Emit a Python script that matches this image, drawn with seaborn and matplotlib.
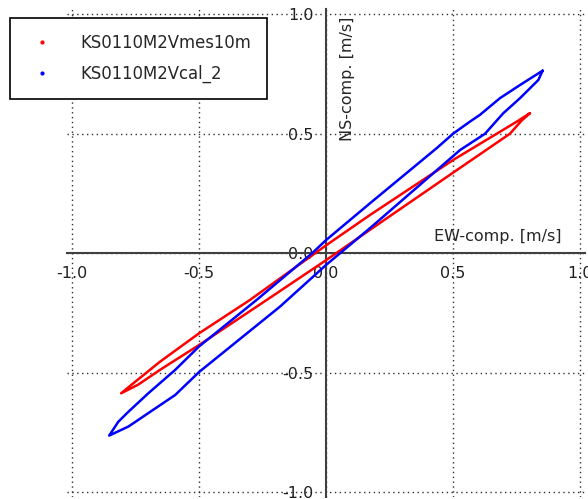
import numpy as np
import pandas as pd
import matplotlib
matplotlib.use("Agg")
import matplotlib.pyplot as plt
import seaborn as sns
from matplotlib.lines import Line2D

# Orbit traces (EW, NS) in m/s, walked once round each loop
mes_ew = [0.803, 0.770, 0.724, 0.500, 0.173, 0.000, -0.233, -0.500, -0.654, -0.740, -0.807,
          -0.760, -0.654, -0.500, -0.299, 0.000, 0.173, 0.500, 0.672, 0.750, 0.803]
mes_ns = [0.586, 0.555, 0.500, 0.337, 0.098, -0.029, -0.195, -0.384, -0.488, -0.550, -0.586,
          -0.545, -0.454, -0.335, -0.195, 0.033, 0.160, 0.390, 0.500, 0.550, 0.586]

cal_ew = [0.853, 0.836, 0.764, 0.698, 0.626, 0.528, 0.173, 0.055, 0.000, -0.181, -0.500,
          -0.594, -0.700, -0.778, -0.854,
          -0.818, -0.778, -0.700, -0.594, -0.500, -0.273, -0.055, 0.000, 0.173, 0.436,
          0.500, 0.567, 0.606, 0.685, 0.764, 0.853]
cal_ns = [0.764, 0.725, 0.649, 0.586, 0.500, 0.432, 0.105, 0.000, -0.049, -0.223, -0.497,
          -0.593, -0.669, -0.725, -0.763,
          -0.705, -0.663, -0.586, -0.488, -0.390, -0.195, 0.000, 0.055, 0.209, 0.440,
          0.500, 0.551, 0.579, 0.649, 0.704, 0.764]

labels = ["KS0110M2Vmes10m", "KS0110M2Vcal_2"]
colors = ["#ff0000", "#0000ff"]
ticks = [-1.0, -0.5, 0.0, 0.5, 1.0]

df = pd.concat([
    pd.DataFrame({"ew": mes_ew, "ns": mes_ns, "series": labels[0]}),
    pd.DataFrame({"ew": cal_ew, "ns": cal_ns, "series": labels[1]}),
], ignore_index=True)

sns.set_style("white")
plt.rcParams["font.family"] = ["DejaVu Sans"]
plt.rcParams["font.size"] = 11.5

fig = plt.figure(figsize=(5.88, 4.99), dpi=100)
ax = fig.add_axes([0.114, 0.004, 0.881, 0.977])

sns.lineplot(data=df, x="ew", y="ns", hue="series", palette=colors,
             estimator=None, sort=False, linewidth=1.8, ax=ax, legend=False, zorder=3)

ax.set_xlim(-1.02, 1.02)
ax.set_ylim(-1.02, 1.02)
ax.set_xticks(ticks)
ax.set_yticks(ticks)
ax.set_xticklabels([f"{t:.1f}" for t in ticks])
ax.set_yticklabels([f"{t:.1f}" for t in ticks])

for side in ["top", "right"]:
    ax.spines[side].set_visible(False)
for side in ["left", "bottom"]:
    ax.spines[side].set_position("zero")
    ax.spines[side].set_color("#404040")
    ax.spines[side].set_linewidth(1.5)

ax.tick_params(axis="both", direction="out", length=7, width=1.5, color="#404040",
               pad=2, labelsize=11.5, labelcolor="#202020")
ax.grid(True, linestyle=(0, (1, 2.5)), color="#303030", linewidth=1.0)
ax.set_axisbelow(True)

ax.set_xlabel("EW-comp. [m/s]", ha="right", va="center", fontsize=11.5)
ax.xaxis.set_label_coords(0.955, 0.535)
ax.set_ylabel("NS-comp. [m/s]", ha="right", va="center", fontsize=11.5)
ax.yaxis.set_label_coords(0.542, 0.985)

handles = [Line2D([], [], marker=".", linestyle="none", color=c, markersize=4) for c in colors]
leg = fig.legend(handles, labels, loc="upper left", bbox_to_anchor=(10 / 588, 1 - 18 / 499),
                 frameon=True, fancybox=False, edgecolor="black", framealpha=1,
                 borderpad=0.95, borderaxespad=0, labelspacing=0.8, handlelength=2.0,
                 handletextpad=1.3, fontsize=11.9)
leg.get_frame().set_linewidth(1.2)

fig.savefig("out.png", dpi=100)
